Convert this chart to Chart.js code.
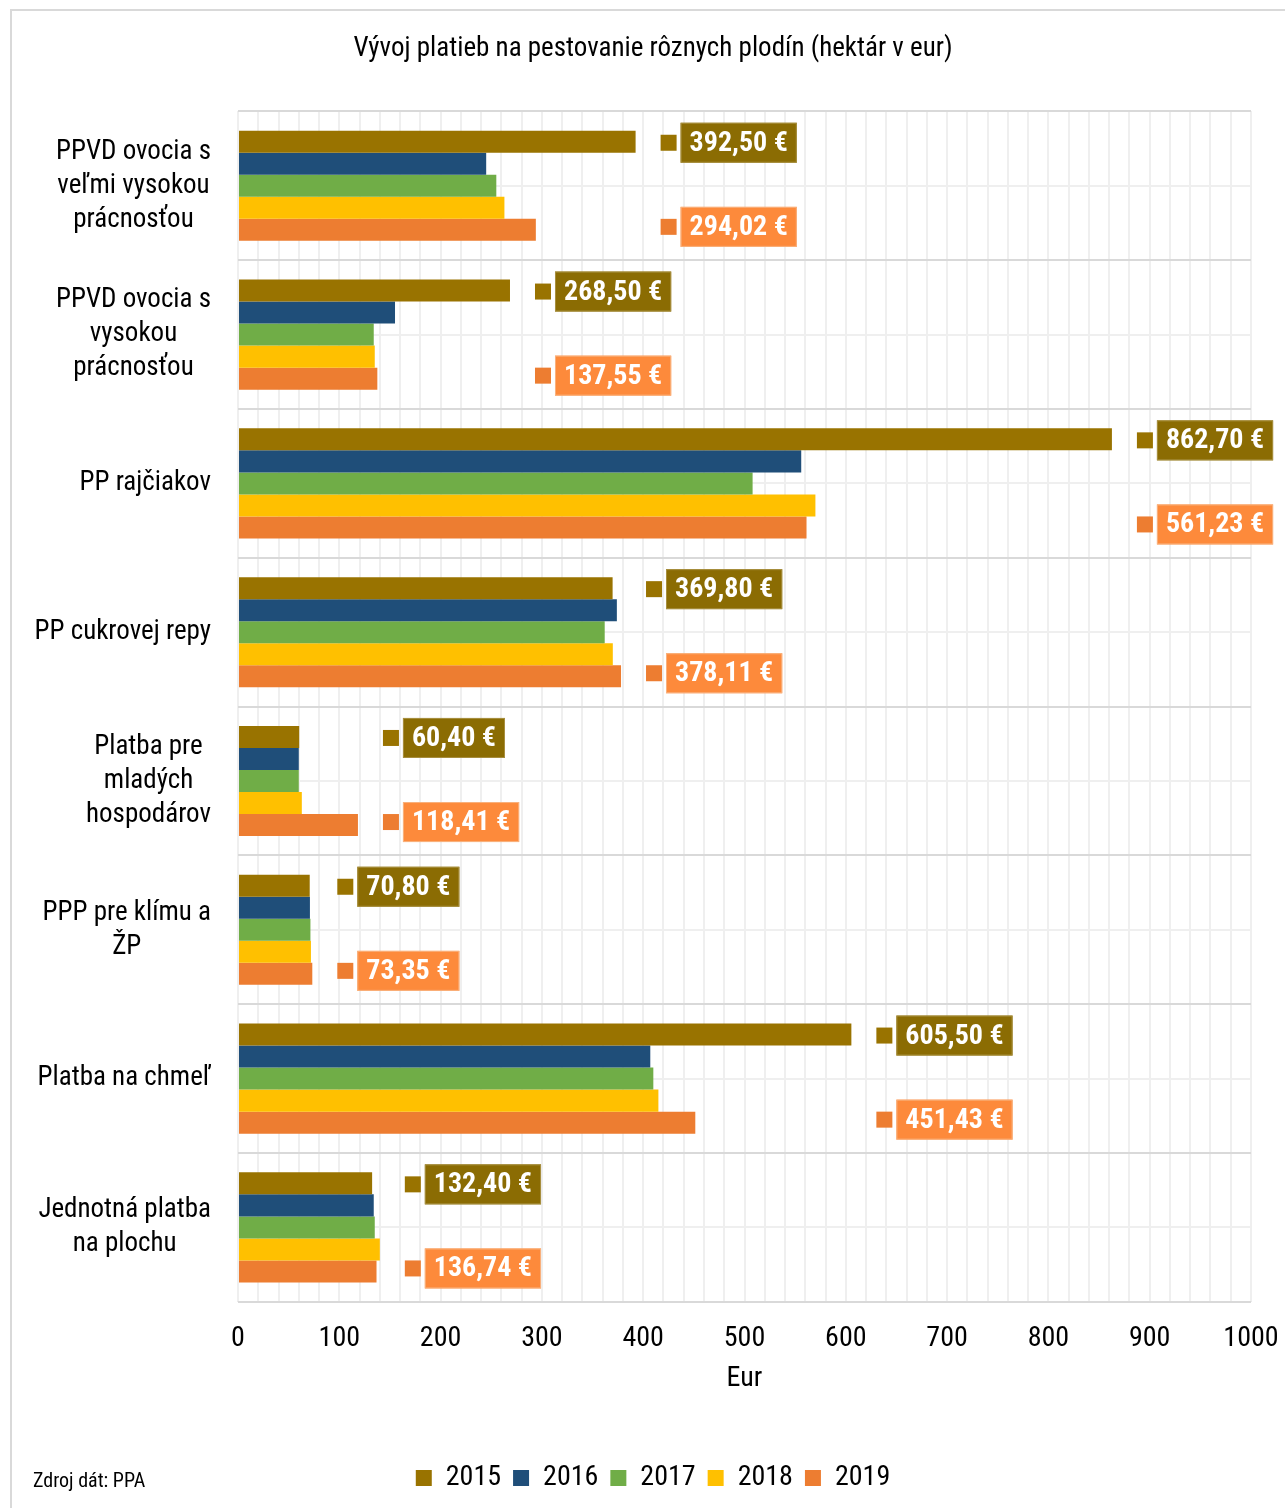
<!DOCTYPE html>
<html>
<head>
<meta charset="utf-8">
<script src="https://cdn.jsdelivr.net/npm/chart.js@4.4.1/dist/chart.umd.min.js"></script>
<style>
  html, body { margin: 0; padding: 0; background: #fff; overflow: hidden; }
  #frame { position: absolute; left: 10px; top: 9px; width: 1300px; height: 1520px;
           border-top: 2px solid #d9d9d9; border-left: 2px solid #d9d9d9; }
  #chart { position: absolute; left: 0; top: 0; }
  #source { position: absolute; left: 33px; top: 1468px; font: 20px "Roboto Condensed", sans-serif; color: #000; }
</style>
</head>
<body>
<div id="frame"></div>
<canvas id="chart" width="1310" height="1508"></canvas>
<div id="source">Zdroj dát: PPA</div>
<script>
'use strict';

const categories = [
  ['PPVD ovocia s', 'veľmi vysokou', 'prácnosťou'],
  ['PPVD ovocia s', 'vysokou', 'prácnosťou'],
  ['PP rajčiakov'],
  ['PP cukrovej repy'],
  ['Platba pre', 'mladých', 'hospodárov'],
  ['PPP pre klímu a', 'ŽP'],
  ['Platba na chmeľ'],
  ['Jednotná platba', 'na plochu']
];
const years = ['2015', '2016', '2017', '2018', '2019'];
const values2015 = [392.50, 268.50, 862.70, 369.80, 60.40, 70.80, 605.50, 132.40];
const values2016 = [245, 155, 556, 374, 60, 71, 407, 134];
const values2017 = [255, 134, 508, 362, 60, 71.5, 410, 135];
const values2018 = [263, 135, 570, 370, 63, 72, 415, 140];
const values2019 = [294.02, 137.55, 561.23, 378.11, 118.41, 73.35, 451.43, 136.74];
const colors = ['#997300', '#1f4e79', '#70ad47', '#ffc000', '#ed7d31'];
const labelBoxes = {0: '#8b6c03', 4: '#fd8a3b'};
const labelBorders = {0: '#a89040', 4: '#f9b27e'};

const FONT = '"Roboto Condensed", "Liberation Sans", sans-serif';
Chart.defaults.font.family = FONT;
Chart.defaults.color = '#000';

function euro(v) {
  return v.toFixed(2).replace('.', ',') + ' €';
}

// category names: lines centred on each other, right edge near the axis
const categoryLabels = {
  id: 'categoryLabels',
  afterDraw(chart) {
    const ctx = chart.ctx;
    const y = chart.scales.y;
    ctx.save();
    ctx.font = '27px ' + FONT;
    ctx.fillStyle = '#000';
    ctx.textAlign = 'center';
    ctx.textBaseline = 'middle';
    categories.forEach(function(lines, i) {
      const cy = y.getPixelForValue(i);
      let maxW = 0;
      lines.forEach(function(l) { maxW = Math.max(maxW, ctx.measureText(l).width); });
      const cx = y.right - 27 - maxW / 2;
      lines.forEach(function(l, j) {
        ctx.fillText(l, cx, cy + (j - (lines.length - 1) / 2) * 34);
      });
    });
    ctx.restore();
  }
};

// value boxes for 2015 and 2019
const valueLabels = {
  id: 'valueLabels',
  afterDatasetsDraw(chart) {
    const ctx = chart.ctx;
    const x = chart.scales.x;
    const sets = chart.data.datasets;
    ctx.save();
    ctx.font = 'bold 28px ' + FONT;
    ctx.textBaseline = 'middle';
    ctx.textAlign = 'left';
    [0, 4].forEach(function(di) {
      chart.getDatasetMeta(di).data.forEach(function(bar, i) {
        const catMax = Math.max.apply(null, sets.map(function(d) { return d.data[i]; }));
        const left = x.getPixelForValue(catMax) + 25;
        const cy = di === 4 ? bar.y - 3 : bar.y + 1;
        const text = euro(sets[di].data[i]);
        const w = ctx.measureText(text).width + 18;
        const h = 40;
        ctx.fillStyle = colors[di];
        ctx.fillRect(left, cy - 8, 16, 16);
        ctx.fillStyle = labelBoxes[di];
        ctx.fillRect(left + 20, cy - h / 2, w, h);
        ctx.strokeStyle = labelBorders[di];
        ctx.lineWidth = 1;
        ctx.strokeRect(left + 20.5, cy - h / 2 + 0.5, w - 1, h - 1);
        ctx.fillStyle = '#fff';
        ctx.fillText(text, left + 29, cy + 1);
      });
    });
    ctx.restore();
  }
};

const series = [values2015, values2016, values2017, values2018, values2019];

const chart = new Chart(document.getElementById('chart'), {
  type: 'bar',
  data: {
    labels: categories,
    datasets: years.map(function(yr, i) {
      return {
        label: yr,
        data: series[i],
        backgroundColor: colors[i],
        borderWidth: 0,
        categoryPercentage: 0.74,
        barPercentage: 1.0,
        xAxisID: 'x',
        yAxisID: 'y'
      };
    })
  },
  options: {
    indexAxis: 'y',
    responsive: false,
    animation: false,
    layout: { padding: { left: 55, right: 59, top: 0, bottom: 6 } },
    scales: {
      x: {
        type: 'linear',
        position: 'bottom',
        min: 0,
        max: 1000,
        ticks: { stepSize: 100, padding: 20, font: { size: 28 }, color: '#000',
                 callback: function(v) { return String(v); } },
        grid: { color: '#d9d9d9', lineWidth: 2, drawTicks: false },
        border: { display: false },
        title: { display: true, text: 'Eur', font: { size: 28 }, color: '#000', padding: { top: -13, bottom: 56 } }
      },
      x2: {
        type: 'linear',
        position: 'top',
        min: 0,
        max: 1000,
        z: -1,
        ticks: { display: false, stepSize: 20 },
        grid: { color: '#efefef', lineWidth: 2, drawTicks: false },
        border: { display: false }
      },
      y: {
        type: 'category',
        position: 'left',
        offset: true,
        ticks: { display: false },
        grid: { offset: true, color: '#d9d9d9', lineWidth: 2, drawTicks: false },
        border: { display: false },
        afterFit: function(s) { s.width = 183; }
      },
      y2: {
        type: 'category',
        position: 'left',
        offset: true,
        z: -1,
        ticks: { display: false },
        grid: { offset: false, color: '#efefef', lineWidth: 2, drawTicks: false },
        border: { display: false },
        afterFit: function(s) { s.width = 0; }
      }
    },
    plugins: {
      title: {
        display: true,
        text: 'Vývoj platieb na pestovanie rôznych plodín (hektár v eur)',
        font: { size: 27, weight: 'normal' },
        color: '#000',
        padding: { top: 33, bottom: 46 }
      },
      legend: {
        position: 'bottom',
        labels: { boxWidth: 16, boxHeight: 16, padding: 12, font: { size: 28 }, color: '#000' }
      },
      tooltip: { enabled: false }
    }
  },
  plugins: [categoryLabels, valueLabels]
});
</script>
</body>
</html>
